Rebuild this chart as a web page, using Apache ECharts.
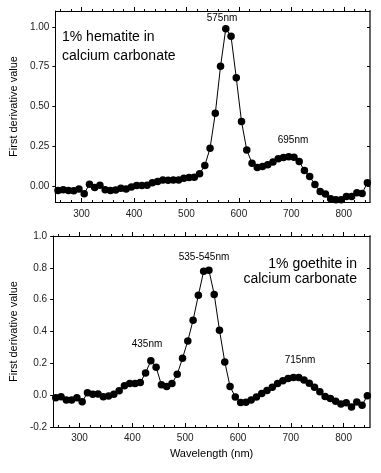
<!DOCTYPE html>
<html>
<head>
<meta charset="utf-8">
<script src="https://cdn.jsdelivr.net/npm/echarts@6/dist/echarts.min.js"></script>
<style>html,body{margin:0;padding:0;background:#fff}#c{width:381px;height:473px}</style>
</head>
<body>
<div id="c"></div>
<script>
const wavelengths = [255,265,275,285,295,305,315,325,335,345,355,365,375,385,395,405,415,425,435,445,455,465,475,485,495,505,515,525,535,545,555,565,575,585,595,605,615,625,635,645,655,665,675,685,695,705,715,725,735,745,755,765,775,785,795,805,815,825,835,845];
const hematite = [-0.027,-0.023,-0.027,-0.029,-0.019,-0.048,0.012,-0.009,0.006,-0.023,-0.027,-0.025,-0.013,-0.019,-0.006,0.004,0.004,0.006,0.021,0.029,0.039,0.037,0.039,0.039,0.050,0.054,0.056,0.077,0.129,0.238,0.457,0.753,0.989,0.941,0.680,0.405,0.227,0.144,0.117,0.123,0.134,0.151,0.172,0.180,0.185,0.181,0.154,0.098,0.060,0.010,-0.034,-0.049,-0.080,-0.086,-0.086,-0.065,-0.065,-0.042,-0.046,0.021];
const goethite = [-0.017,-0.010,-0.031,-0.031,-0.017,-0.042,0.015,0.006,0.008,-0.010,-0.006,0.006,0.027,0.059,0.073,0.073,0.079,0.140,0.216,0.176,0.065,0.054,0.073,0.132,0.232,0.341,0.471,0.628,0.778,0.785,0.633,0.408,0.209,0.054,-0.012,-0.046,-0.045,-0.031,-0.012,0.010,0.029,0.050,0.073,0.090,0.105,0.111,0.111,0.096,0.075,0.050,0.021,-0.008,-0.021,-0.039,-0.055,-0.048,-0.075,-0.043,-0.063,-0.003];
const xMinorTicks = [260,280,300,320,340,360,380,400,420,440,460,480,500,520,540,560,580,600,620,640,660,680,700,720,740,760,780,800,820,840];
const xMajorTicks = [300,400,500,600,700,800];
const topYTicks = [0,0.25,0.5,0.75,1.0];
const bottomYTicks = [-0.2,0,0.2,0.4,0.6,0.8,1.0];

const FONT = 'Liberation Sans, Arial, Helvetica, sans-serif';
const chart = echarts.init(document.getElementById('c'), null, {renderer:'canvas'});

function pairs(ys){ return wavelengths.map((w,i)=>[w, ys[i]]); }

const grids = [
  {left:48, top:11, width:322, height:191},
  {left:48, top:236, width:322, height:191}
];
const xAxes = [];
const yAxes = [];
[0,1].forEach(g=>{
  xAxes.push({type:'value', gridIndex:g, position:'bottom', min:250, max:850,
    axisLine:{show:true, onZero:false, lineStyle:{color:'#000', width:1}},
    axisTick:{show:true, inside:true, length:2, customValues:xMinorTicks, lineStyle:{color:'#000'}},
    axisLabel:{show:true, customValues:xMajorTicks, margin: g===0?7:6, fontSize:10, color:'#222', fontFamily:FONT},
    splitLine:{show:false},
    name: g===1 ? 'Wavelength (nm)' : '', nameLocation:'middle', nameGap:21,
    nameTextStyle:{fontSize:11, color:'#000', fontFamily:FONT}
  });
  xAxes.push({type:'value', gridIndex:g, position:'bottom', min:250, max:850,
    axisLine:{show:false, onZero:false}, axisLabel:{show:false}, splitLine:{show:false},
    axisTick:{show:true, inside:true, length:4, customValues:xMajorTicks, lineStyle:{color:'#000'}}
  });
  xAxes.push({type:'value', gridIndex:g, position:'top', min:250, max:850,
    axisLine:{show:true, onZero:false, lineStyle:{color:'#000', width:1}},
    axisTick:{show:true, inside:false, length:2, customValues:xMinorTicks, lineStyle:{color:'#000'}},
    axisLabel:{show:false}, splitLine:{show:false}
  });
  xAxes.push({type:'value', gridIndex:g, position:'top', min:250, max:850,
    axisLine:{show:false, onZero:false}, axisLabel:{show:false}, splitLine:{show:false},
    axisTick:{show:true, inside:false, length:4, customValues:xMajorTicks, lineStyle:{color:'#000'}}
  });
  const ticks = g===0 ? topYTicks : bottomYTicks;
  const ymin = g===0 ? -0.1 : -0.2;
  const ymax = g===0 ? 1.1 : 1.0;
  const dec = g===0 ? 2 : 1;
  yAxes.push({type:'value', gridIndex:g, position:'left', min:ymin, max:ymax,
    axisLine:{show:true, onZero:false, lineStyle:{color:'#000', width:1}},
    axisTick:{show:true, inside:false, length:3, customValues:ticks, lineStyle:{color:'#000'}},
    axisLabel:{show:true, customValues:ticks, margin:6, fontSize:10, color:'#222', fontFamily:FONT,
      formatter: v => (Math.abs(v)<1e-9?0:v).toFixed(dec)},
    splitLine:{show:false},
    name:'First derivative value', nameLocation:'middle', nameRotate:90, nameGap:33,
    nameTextStyle:{fontSize:11, color:'#000', fontFamily:FONT}
  });
  yAxes.push({type:'value', gridIndex:g, position:'right', min:ymin, max:ymax,
    axisLine:{show:true, onZero:false, lineStyle:{color:'#666', width:2}},
    axisTick:{show:true, inside:true, length:3, customValues:ticks, lineStyle:{color:'#000'}},
    axisLabel:{show:false}, splitLine:{show:false}
  });
});

const lineSeries = (ys, xi, yi) => ({
  type:'line', xAxisIndex:xi, yAxisIndex:yi, data:pairs(ys),
  symbol:'circle', symbolSize:7.5, showSymbol:true, animation:false,
  itemStyle:{color:'#000'}, lineStyle:{color:'#000', width:1}
});

function txt(text, x, y, size, align){
  return {type:'text', x:x, y:y, silent:true,
    style:{text:text, fill:'#000', font: size+'px '+FONT, textAlign:align, textVerticalAlign:'middle', align:align, verticalAlign:'middle'}};
}

chart.setOption({
  animation:false,
  backgroundColor:'#fff',
  grid:grids,
  xAxis:xAxes,
  yAxis:yAxes,
  series:[lineSeries(hematite,0,0), lineSeries(goethite,4,2)],
  graphic:[
    txt('1% hematite in', 62, 37, 14, 'left'),
    txt('calcium carbonate', 62, 56.5, 14, 'left'),
    txt('575nm', 222, 18.5, 10, 'center'),
    txt('695nm', 293, 140, 10, 'center'),
    txt('1% goethite in', 357, 264.5, 14, 'right'),
    txt('calcium carbonate', 357, 279.5, 14, 'right'),
    txt('535-545nm', 204, 257, 10, 'center'),
    txt('435nm', 147, 344, 10, 'center'),
    txt('715nm', 300, 360, 10, 'center')
  ]
});
</script>
</body>
</html>
